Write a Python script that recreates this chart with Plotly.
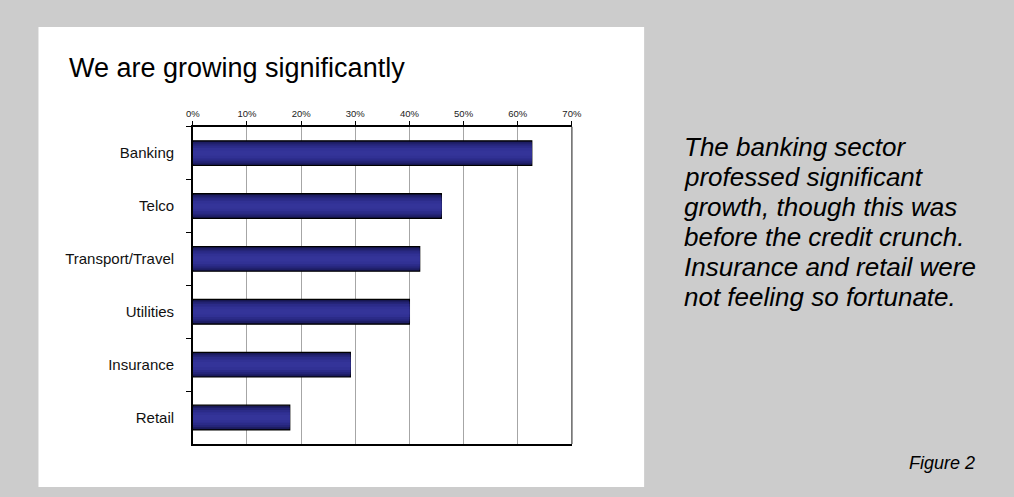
import plotly.graph_objects as go

W, H = 1014, 497

# Survey data: share of respondents reporting growth, by sector
sectors = ["Banking", "Telco", "Transport/Travel", "Utilities", "Insurance", "Retail"]
growth_pct = [62.6, 45.9, 41.9, 40.0, 29.1, 17.9]
x_ticks = [0, 10, 20, 30, 40, 50, 60, 70]
x_tick_labels = ["0%", "10%", "20%", "30%", "40%", "50%", "60%", "70%"]

title_text = "We are growing significantly"
comment_lines = [
    "The banking sector",
    "professed significant",
    "growth, though this was",
    "before the credit crunch.",
    "Insurance and retail were",
    "not feeling so fortunate.",
]
caption_text = "Figure 2"

FONT = "Arial, 'Liberation Sans', sans-serif"


def px_x(x):
    return x / W


def px_y(y):
    return 1 - y / H


# plot-area placement in pixels
PLOT_L, PLOT_R, PLOT_T, PLOT_B = 189, 574.5, 126.7, 444

fig = go.Figure()

# shaded bars: stacked layers from dark edge to lighter centre
shade_layers = [
    (0.467, "#15154a"),
    (0.42, "#1d1d63"),
    (0.36, "#252578"),
    (0.29, "#2b2b88"),
    (0.20, "#313194"),
    (0.10, "#343499"),
]
for i, (w, col) in enumerate(shade_layers):
    fig.add_trace(go.Bar(
        y=sectors,
        x=growth_pct,
        orientation="h",
        width=w,
        marker=dict(color=col, line=dict(color="#000000", width=1.2 if i == 0 else 0)),
        showlegend=False,
        hoverinfo="skip" if i else None,
    ))

# commentary text, one annotation per line for tight leading
comment_annotations = [
    dict(text=f"<i>{line}</i>", xref="paper", yref="paper",
         x=px_x(687), y=px_y(147 + 30 * k), xanchor="left", yanchor="middle",
         showarrow=False, font=dict(size=26, color="#000000", family=FONT))
    for k, line in enumerate(comment_lines)
]

fig.update_layout(
    width=W,
    height=H,
    margin=dict(l=0, r=0, t=0, b=0),
    paper_bgcolor="#cccccc",
    plot_bgcolor="#ffffff",
    barmode="overlay",
    font=dict(family=FONT, color="#000000"),
    xaxis=dict(
        domain=[px_x(PLOT_L), px_x(PLOT_R)],
        side="top",
        range=[0, 70],
        tickvals=x_ticks,
        ticktext=x_tick_labels,
        tickfont=dict(size=9.5, color="#222222"),
        ticks="outside",
        ticklen=4,
        tickcolor="#000000",
        showline=True,
        linecolor="#000000",
        linewidth=1.5,
        mirror=True,
        showgrid=True,
        gridcolor="#a6a6a6",
        gridwidth=1,
        zeroline=False,
        fixedrange=True,
    ),
    yaxis=dict(
        domain=[px_y(PLOT_B), px_y(PLOT_T)],
        type="category",
        categoryorder="array",
        categoryarray=sectors,
        autorange="reversed",
        tickson="boundaries",
        ticks="outside",
        ticklen=5,
        tickcolor="#000000",
        tickfont=dict(size=15, color="#111111"),
        ticklabelstandoff=14,
        showline=True,
        linecolor="#000000",
        linewidth=1.5,
        showgrid=False,
        zeroline=False,
        fixedrange=True,
    ),
    shapes=[
        # white chart panel
        dict(type="rect", xref="paper", yref="paper",
             x0=px_x(32), x1=px_x(648), y0=px_y(487), y1=px_y(27),
             fillcolor="#ffffff", line=dict(width=0), layer="below"),
        # right border of plot area
        dict(type="line", xref="paper", yref="paper",
             x0=px_x(PLOT_R), x1=px_x(PLOT_R), y0=px_y(PLOT_B), y1=px_y(PLOT_T),
             line=dict(color="#666666", width=1.5)),
    ],
    annotations=[
        dict(text=title_text, xref="paper", yref="paper",
             x=px_x(61), y=px_y(68), xanchor="left", yanchor="middle",
             showarrow=False, font=dict(size=27, color="#000000", family=FONT)),
        dict(text=f"<i>{caption_text}</i>", xref="paper", yref="paper",
             x=px_x(987), y=px_y(463), xanchor="right", yanchor="middle",
             showarrow=False, font=dict(size=18, color="#000000", family=FONT)),
    ] + comment_annotations,
)

fig.write_html("out.html", config={"displayModeBar": False})
